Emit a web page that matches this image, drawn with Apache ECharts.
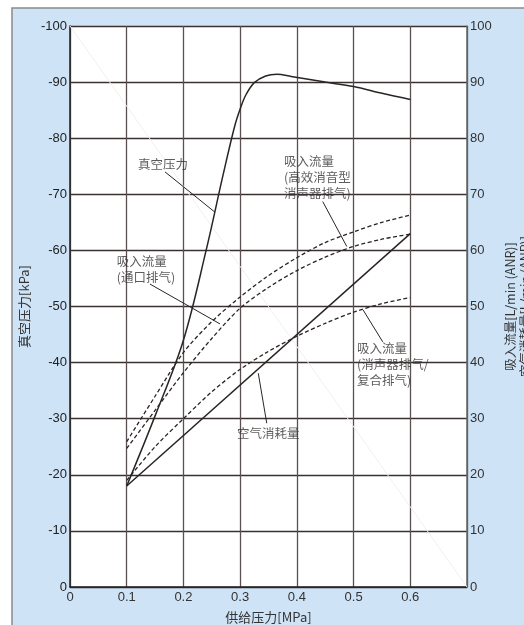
<!DOCTYPE html>
<html lang="zh">
<head>
<meta charset="UTF-8">
<title>真空压力 / 吸入流量</title>
<style>
  html, body { margin: 0; padding: 0; background: #fff; }
  #main { width: 524px; height: 625px; }
</style>
</head>
<body>
<div id="main"></div>
<script src="https://cdn.jsdelivr.net/npm/echarts@6/dist/echarts.min.js"></script>
<script>
// 供给压力 [MPa]
var flowX = [0.1, 0.15, 0.2, 0.25, 0.3, 0.35, 0.4, 0.45, 0.5, 0.55, 0.6];
// 吸入流量 (高效消音型消声器排气)
var flowSilencerHigh = [25.9, 34, 41.8, 47.3, 51.7, 55.5, 58.7, 61.4, 63.3, 65, 66.3];
// 吸入流量 (通口排气)
var flowPort = [24.7, 31.5, 38.2, 44.3, 49.7, 53.4, 56.4, 58.8, 60.7, 62, 62.9];
// 吸入流量 (消声器排气/复合排气)
var flowSilencer = [19, 25, 30, 34.8, 38.8, 42, 44.7, 47, 49, 50.5, 51.6];
// 空气消耗量
var airX = [0.1, 0.6];
var airUse = [18, 63];
// 真空压力 [kPa]
var vacX = [0.1, 0.15, 0.2, 0.24, 0.27, 0.29, 0.3, 0.31, 0.325, 0.345, 0.365, 0.39, 0.45, 0.5, 0.55, 0.6];
var vacuum = [-18, -30.5, -44, -60, -73.5, -82, -85.2, -87.7, -89.9, -91.1, -91.4, -91, -90, -89.2, -88, -86.9];

// 注释文字 [x, y(右轴), 文字]
var notes = [
  [0.120, 75.4, '真空压力'],
  [0.3774, 73.0, '吸入流量\n(高效消音型\n消声器排气)'],
  [0.0823, 56.6, '吸入流量\n(通口排气)'],
  [0.506, 39.75, '吸入流量\n(消声器排气/\n复合排气)'],
  [0.2945, 27.45, '空气消耗量']
];
// 引出线
var leaders = [
  [[0.1675, 74.0], [0.2557, 66.8]],
  [[0.4456, 68.7], [0.488, 60.7]],
  [[0.141, 54.0], [0.2645, 46.9]],
  [[0.5167, 49.4], [0.5514, 43.7]],
  [[0.332, 38.1], [0.3469, 29.2]]
];

var pair = function (xs, ys) {
  return xs.map(function (x, i) { return [x, ys[i]]; });
};

var cjk = '"Noto Sans CJK SC", sans-serif';
var num = '"Liberation Sans", Arial, sans-serif';
var ink = '#2b2424';

var series = [];
// 背景上的淡对角线
series.push({
  type: 'line', yAxisIndex: 0, silent: true, symbol: 'none',
  data: [[0, -100], [0.7, 0]],
  lineStyle: { color: '#f0f0f0', width: 1 }, z: 1
});
[flowSilencerHigh, flowPort, flowSilencer].forEach(function (ys) {
  series.push({
    type: 'line', yAxisIndex: 1, symbol: 'none', smooth: 0.3,
    data: pair(flowX, ys),
    lineStyle: { color: ink, width: 1.3, type: [4, 2.5] }
  });
});
series.push({
  type: 'line', yAxisIndex: 1, symbol: 'none',
  data: pair(airX, airUse),
  lineStyle: { color: ink, width: 1.5 }
});
series.push({
  type: 'line', yAxisIndex: 0, symbol: 'none', smooth: 0.35,
  data: pair(vacX, vacuum),
  lineStyle: { color: ink, width: 1.5 }
});
leaders.forEach(function (seg) {
  series.push({
    type: 'line', yAxisIndex: 1, symbol: 'none', silent: true,
    data: seg,
    lineStyle: { color: ink, width: 1 }
  });
});
series.push({
  type: 'scatter', yAxisIndex: 1, symbolSize: 0, silent: true,
  data: notes,
  label: {
    show: true, position: 'right', distance: 0,
    formatter: function (p) { return p.data[2]; },
    fontFamily: cjk, fontSize: 12.5, lineHeight: 16, color: '#333'
  }
});

var mainChart = echarts.init(document.getElementById('main'));
var option = {
  backgroundColor: '#fff',
  animation: false,
  graphic: [{
    type: 'rect', z: -10, silent: true,
    shape: { x: 12, y: 8, width: 540, height: 640 },
    style: { fill: '#cee3f6', stroke: '#8a8a8a', lineWidth: 1.5 }
  }],
  grid: {
    left: 70, top: 26, right: 57, bottom: 38,
    outerBoundsMode: 'none', containLabel: false,
    show: true, backgroundColor: '#fff', borderWidth: 0
  },
  xAxis: {
    type: 'value', min: 0, max: 0.7, interval: 0.1,
    name: '供给压力[MPa]', nameLocation: 'middle', nameGap: 24,
    nameTextStyle: { fontFamily: cjk, fontSize: 13, color: '#333' },
    axisLine: { lineStyle: { color: '#222', width: 1.5 } },
    axisTick: { show: false },
    axisLabel: {
      margin: 4, fontFamily: num, fontSize: 13, color: '#333',
      formatter: function (v) { return v > 0.65 ? '' : String(Math.round(v * 10) / 10); }
    },
    splitLine: { show: true, lineStyle: { color: '#5a5050', width: 1.3 } }
  },
  yAxis: [{
    type: 'value', min: -100, max: 0, interval: 10, inverse: true,
    name: '真空压力[kPa]', nameLocation: 'middle', nameGap: 32, nameRotate: 90,
    nameTextStyle: { fontFamily: cjk, fontSize: 13, color: '#333' },
    axisLine: { show: true, lineStyle: { color: '#222', width: 1.5 } },
    axisTick: { show: false },
    axisLabel: { margin: 3, fontFamily: num, fontSize: 13, color: '#222' },
    splitLine: { show: true, lineStyle: { color: '#3a3030', width: 1.3 } }
  }, {
    type: 'value', min: 0, max: 100, interval: 10,
    name: '吸入流量[L/min (ANR)]\n空气消耗量[L/min (ANR)]', nameLocation: 'middle', nameGap: 34, nameRotate: 90,
    nameTextStyle: { fontFamily: cjk, fontSize: 12.5, color: '#333', lineHeight: 15 },
    axisLine: { show: true, lineStyle: { color: '#666', width: 1.5 } },
    axisTick: { show: false },
    axisLabel: { margin: 3, fontFamily: num, fontSize: 13, color: '#333' },
    splitLine: { show: false }
  }],
  series: series
};
mainChart.setOption(option);
</script>
</body>
</html>
